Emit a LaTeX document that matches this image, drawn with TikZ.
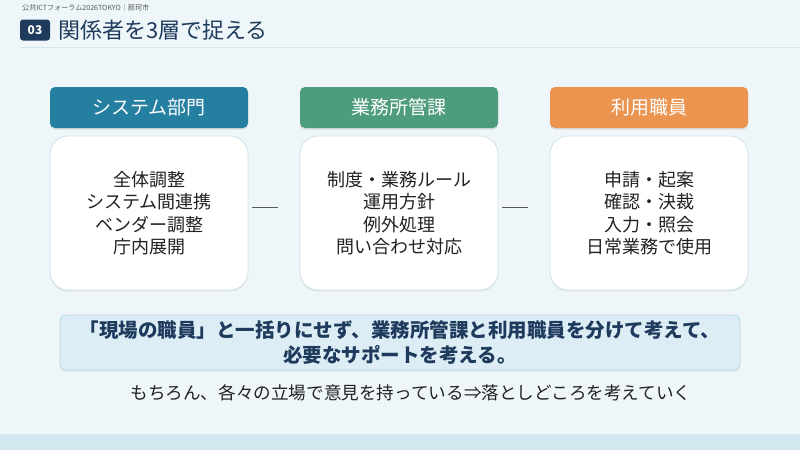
\documentclass[tikz,border=0pt]{standalone}
\usepackage{fontspec}
\setmainfont{Noto Sans CJK JP}
\newfontfamily\jp{Noto Sans CJK JP}
\usetikzlibrary{shadows}
\definecolor{bgc}{HTML}{EEF6F9}
\definecolor{bandc}{HTML}{D3E7EE}
\definecolor{navy}{HTML}{1E3A5C}
\definecolor{hblue}{HTML}{257FA0}
\definecolor{hgreen}{HTML}{4E9C7E}
\definecolor{horange}{HTML}{EA9450}
\definecolor{txt}{HTML}{222222}
\definecolor{cbord}{HTML}{D0E2EA}
\definecolor{callfill}{HTML}{DCEDF5}
\definecolor{callbord}{HTML}{B5D6E4}
\tikzset{
  hdr/.style={rounded corners=5pt, minimum width=198pt, minimum height=41pt, text=white, font=\jp\fontsize{19}{22}\selectfont, inner sep=0pt, drop shadow={opacity=0.2, shadow xshift=0pt, shadow yshift=-1.5pt}},
  content/.style={draw=cbord, line width=0.8pt, fill=white, rounded corners=18pt, minimum width=198pt, minimum height=154pt, text=txt, align=center, font=\jp\fontsize{18}{22.5}\selectfont, inner sep=0pt, drop shadow={opacity=0.15, shadow xshift=0pt, shadow yshift=-1.5pt}},
  conn/.style={draw=txt!75, line width=1pt, shorten <=4pt, shorten >=22pt}
}
\begin{document}
\begin{tikzpicture}[x=1pt,y=-1pt]
\fill[bgc] (0,0) rectangle (800,450);
\useasboundingbox (0,0) rectangle (800,450);
\fill[bandc] (0,434) rectangle (800,450);
% header
\node[anchor=west, text=black!65, font=\jp\fontsize{7.1}{8}\selectfont, inner sep=0pt] (top) at (22,8) {公共ICTフォーラム2026TOKYO｜那珂市};
\node[fill=navy, rounded corners=3pt, minimum width=30pt, minimum height=21pt, text=white, font=\jp\bfseries\fontsize{12}{13}\selectfont, inner sep=0pt] (badge) at (35,30) {03};
\node[anchor=west, text=navy, font=\jp\fontsize{22}{25}\selectfont, inner sep=0pt] (title) at (58,30) {関係者を3層で捉える};
\draw[color=bandc, line width=1.5pt] (20,47.5) -- (800,47.5);
% columns
\node[hdr, fill=hblue] (h1) at (149,107.5) {システム部門};
\node[hdr, fill=hgreen] (h2) at (399,107.5) {業務所管課};
\node[hdr, fill=horange] (h3) at (649,107.5) {利用職員};
\node[content] (c1) at (149,213) {全体調整\\システム間連携\\ベンダー調整\\庁内展開};
\node[content] (c2) at (399,213) {制度・業務ルール\\運用方針\\例外処理\\問い合わせ対応};
\node[content] (c3) at (649,213) {申請・起案\\確認・決裁\\入力・照会\\日常業務で使用};
\draw[conn] ([yshift=6pt]c1.east) -- ([yshift=6pt]c2.west);
\draw[conn] ([yshift=6pt]c2.east) -- ([yshift=6pt]c3.west);
% callout
\node[draw=callbord, line width=0.8pt, fill=callfill, rounded corners=6pt, minimum width=680pt, minimum height=55pt, text=navy, align=center, font=\jp\bfseries\fontsize{19.5}{25}\selectfont, inner sep=0pt, drop shadow={opacity=0.15, shadow xshift=0pt, shadow yshift=-1.5pt}] (call) at (400,342.5) {「現場の職員」と一括りにせず、業務所管課と利用職員を分けて考えて、\\必要なサポートを考える。};
\node[text=txt, font=\jp\fontsize{17.6}{20}\selectfont, inner sep=0pt] (note) at (411,393) {もちろん、各々の立場で意見を持っている⇒落としどころを考えていく};
\end{tikzpicture}
\end{document}
